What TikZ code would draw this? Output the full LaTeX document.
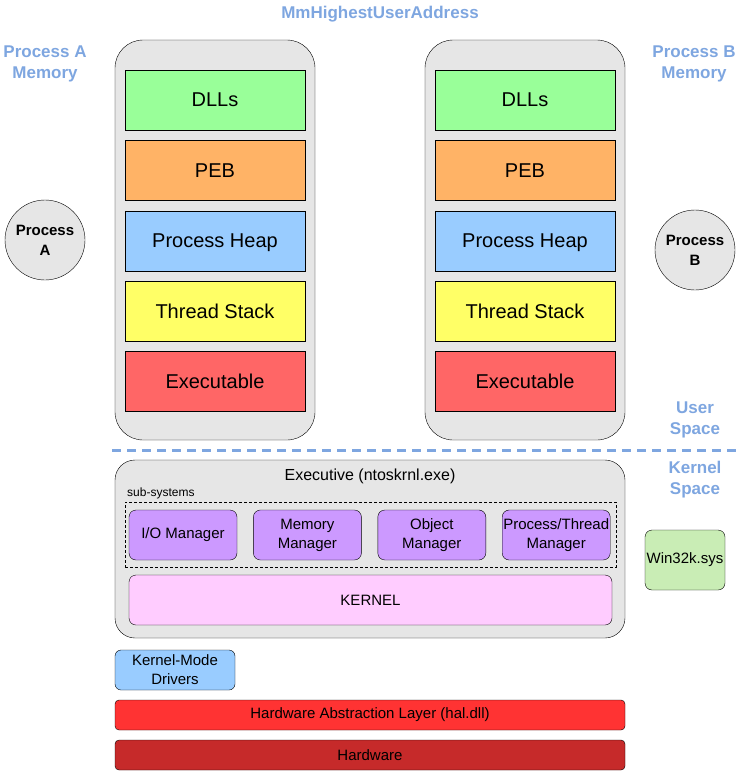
\documentclass[tikz,border=0pt]{standalone}
\usepackage{fontspec}
\setmainfont{Liberation Sans}
\usetikzlibrary{positioning, calc}
\definecolor{LabelBlue}{HTML}{7EA6E0}
\definecolor{PanelGrey}{HTML}{E6E6E6}
\definecolor{DllGreen}{HTML}{99FF99}
\definecolor{PebOrange}{HTML}{FFB366}
\definecolor{HeapBlue}{HTML}{99CCFF}
\definecolor{StackYellow}{HTML}{FFFF66}
\definecolor{ExeRed}{HTML}{FF6666}
\definecolor{MgrPurple}{HTML}{CC99FF}
\definecolor{KernelPink}{HTML}{FFCCFF}
\definecolor{WinGreen}{HTML}{C9EDB5}
\definecolor{HalRed}{HTML}{FF3333}
\definecolor{HwRed}{HTML}{C62A2A}

\begin{document}
\begin{tikzpicture}[x=1pt, y=-1pt, node distance=10pt, inner sep=0pt]
    \tikzstyle{panel} = [rectangle, draw=black, fill=PanelGrey, rounded corners=28pt, minimum width=200pt, minimum height=400pt]
    \tikzstyle{region} = [rectangle, draw=black, minimum width=180pt, minimum height=60pt, text depth=0pt, font=\fontsize{20}{23}\selectfont]
    \tikzstyle{note} = [align=center, text=LabelBlue, font=\bfseries\fontsize{17}{21}\selectfont]
    \tikzstyle{proc} = [circle, draw=black, fill=PanelGrey, minimum size=80pt, align=center, font=\bfseries\fontsize{15}{20}\selectfont]
    \tikzstyle{mgr} = [rectangle, draw=black, fill=MgrPurple, rounded corners=7pt, minimum width=108pt, minimum height=50pt, align=center, font=\fontsize{15}{19}\selectfont]
    \tikzstyle{layer} = [rectangle, draw=black, rounded corners=4pt, minimum width=510pt, minimum height=30pt, font=\fontsize{15}{18}\selectfont]

    \useasboundingbox (0,0) rectangle (741,771);

    % labels
    \node [note] (highest) at (380,14) {MmHighestUserAddress};
    \node [note] (memA) at (45,64) {Process A\\Memory};
    \node [note] (memB) at (694,64) {Process B\\Memory};
    \node [note] (user) at (695,420) {User\\Space};
    \node [note] (kern) at (695,480) {Kernel\\Space};

    % process A memory
    \node [panel] (spaceA) at (215,240) {};
    \node [region, fill=DllGreen] (dllA) at (215,100) {DLLs};
    \node [region, fill=PebOrange, below=of dllA] (pebA) {PEB};
    \node [region, fill=HeapBlue, below=of pebA] (heapA) {Process Heap};
    \node [region, fill=StackYellow, below=of heapA] (stackA) {Thread Stack};
    \node [region, fill=ExeRed, below=of stackA] (exeA) {Executable};

    % process B memory
    \node [panel] (spaceB) at (525,240) {};
    \node [region, fill=DllGreen] (dllB) at (525,100) {DLLs};
    \node [region, fill=PebOrange, below=of dllB] (pebB) {PEB};
    \node [region, fill=HeapBlue, below=of pebB] (heapB) {Process Heap};
    \node [region, fill=StackYellow, below=of heapB] (stackB) {Thread Stack};
    \node [region, fill=ExeRed, below=of stackB] (exeB) {Executable};

    \node [proc] (procA) at (45,240) {Process\\A};
    \node [proc] (procB) at (695,250) {Process\\B};

    % user / kernel boundary
    \coordinate (bndL) at (112,450);
    \coordinate (bndR) at (741,450);
    \draw [LabelBlue, line width=3pt, dash pattern=on 9pt off 6pt] (bndL) -- (bndR);

    % executive
    \node [rectangle, draw=black, fill=PanelGrey, rounded corners=20pt, minimum width=510pt, minimum height=178pt] (exec) at (370,549) {};
    \node [font=\fontsize{16}{19}\selectfont] (execT) at (370,476) {Executive (ntoskrnl.exe)};
    \node [anchor=west, font=\fontsize{12}{14}\selectfont] (subT) at (127,493) {sub-systems};
    \node [rectangle, draw=black, densely dashed, minimum width=491pt, minimum height=65pt] (subsys) at (370.5,534.5) {};
    \node [mgr] (io) at (183,535) {I/O Manager};
    \node [mgr, right=16pt of io] (mm) {Memory\\Manager};
    \node [mgr, right=16pt of mm] (om) {Object\\Manager};
    \node [mgr, right=16pt of om] (pm) {Process/Thread\\Manager};
    \node [mgr, fill=KernelPink, minimum width=483pt] (kernel) at (370.5,600) {KERNEL};

    \node [mgr, fill=WinGreen, minimum width=80pt, minimum height=60pt] (win32k) at (685,560) {Win32k.sys};

    % lower layers
    \node [mgr, fill=HeapBlue, rounded corners=6pt, minimum width=120pt, minimum height=40pt] (kmd) at (175,670) {Kernel-Mode\\Drivers};
    \node [layer, fill=HalRed] (hal) at (370,715) {Hardware Abstraction Layer (hal.dll)};
    \node [layer, fill=HwRed] (hw) at (370,755) {Hardware};
\end{tikzpicture}
\end{document}
